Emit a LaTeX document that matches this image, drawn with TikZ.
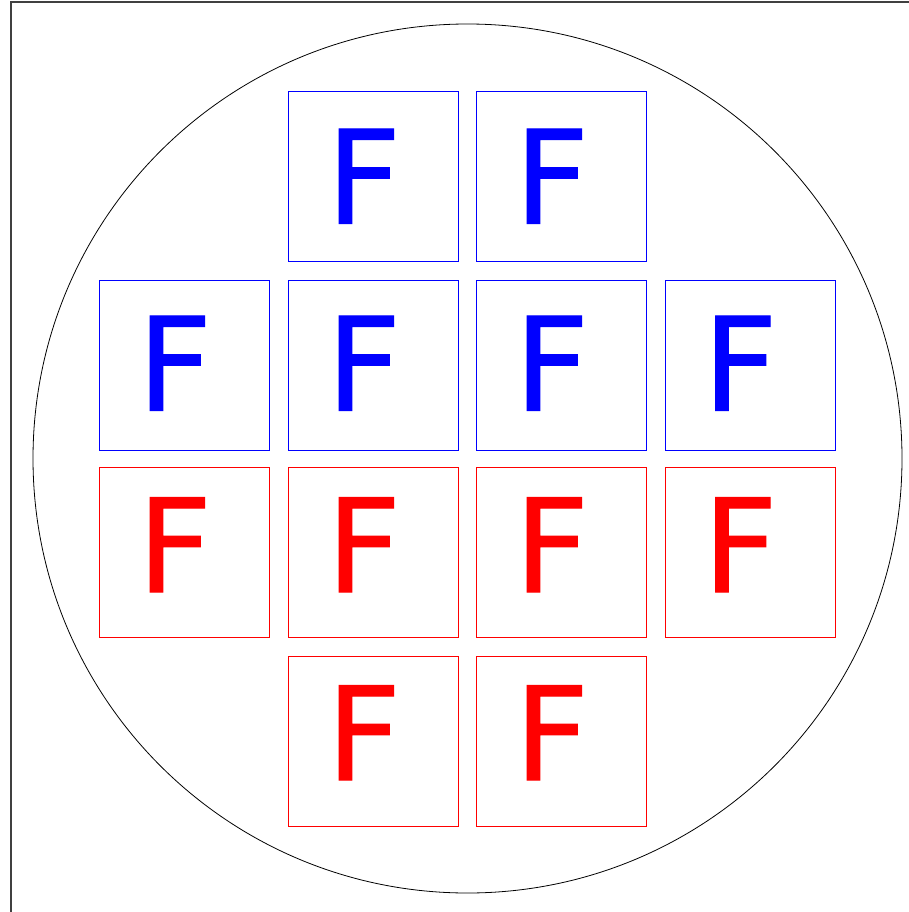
\documentclass[tikz,border=0pt]{standalone}
\usepackage{fontspec}
\newfontfamily\tilefont[FakeBold=0.8]{DejaVu Sans}
\tikzset{
  tile/.style={draw, minimum size=170pt, inner sep=0pt, line width=0.8pt},
  letter/.style={font=\tilefont\fontsize{130}{130}\selectfont, inner sep=0pt, anchor=base west},
}
\begin{document}
\begin{tikzpicture}[x=1pt,y=-1pt]
    \useasboundingbox (0,0) rectangle (909,912);

    % Frame
    \draw[line width=1.6pt,black!75] (11,912) -- (11,2) -- (909,2);

    % Wafer
    \node[circle,draw,line width=0.8pt,minimum size=869pt,inner sep=0pt] (wafer) at (467.5,458.5) {};

    % Top half (blue)
    \node[tile,blue] (b12) at (373.5,176.5) {};
    \node[tile,blue] (b13) at (561.5,176.5) {};
    \node[tile,blue] (b21) at (184.5,365) {};
    \node[tile,blue] (b22) at (373.5,365) {};
    \node[tile,blue] (b23) at (561.5,365) {};
    \node[tile,blue] (b24) at (750,365) {};

    \node[letter,blue] (fb12) at ([xshift=38pt,yshift=-132.5pt]b12.north west) {F};
    \node[letter,blue] (fb13) at ([xshift=38pt,yshift=-132.5pt]b13.north west) {F};
    \node[letter,blue] (fb21) at ([xshift=38pt,yshift=-131pt]b21.north west) {F};
    \node[letter,blue] (fb22) at ([xshift=38pt,yshift=-131pt]b22.north west) {F};
    \node[letter,blue] (fb23) at ([xshift=38pt,yshift=-131pt]b23.north west) {F};
    \node[letter,blue] (fb24) at ([xshift=38pt,yshift=-131pt]b24.north west) {F};

    % Bottom half (red)
    \node[tile,red] (r31) at (184.5,552.5) {};
    \node[tile,red] (r32) at (373.5,552.5) {};
    \node[tile,red] (r33) at (561.5,552.5) {};
    \node[tile,red] (r34) at (750,552.5) {};
    \node[tile,red] (r42) at (373.5,741.5) {};
    \node[tile,red] (r43) at (561.5,741.5) {};

    \node[letter,red] (fr31) at ([xshift=38pt,yshift=-125pt]r31.north west) {F};
    \node[letter,red] (fr32) at ([xshift=38pt,yshift=-125pt]r32.north west) {F};
    \node[letter,red] (fr33) at ([xshift=38pt,yshift=-125pt]r33.north west) {F};
    \node[letter,red] (fr34) at ([xshift=38pt,yshift=-125pt]r34.north west) {F};
    \node[letter,red] (fr42) at ([xshift=38pt,yshift=-124pt]r42.north west) {F};
    \node[letter,red] (fr43) at ([xshift=38pt,yshift=-124pt]r43.north west) {F};
\end{tikzpicture}
\end{document}
